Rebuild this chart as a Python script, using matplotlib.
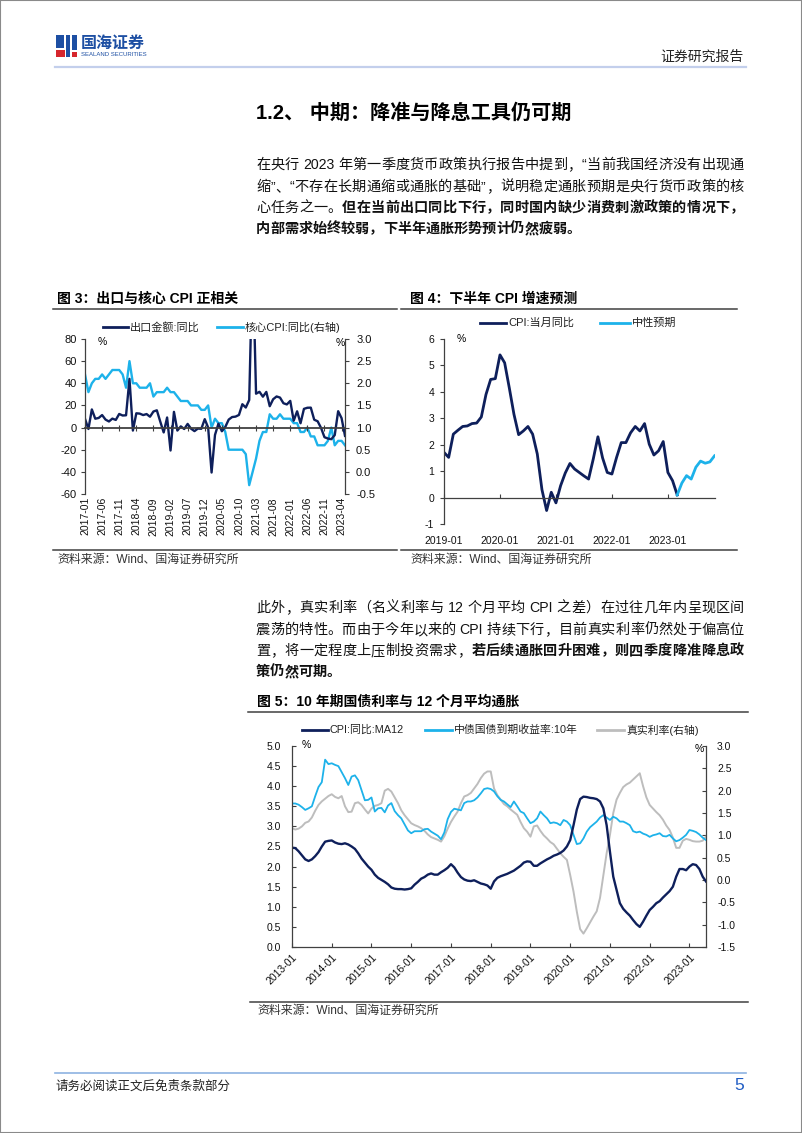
import re
import numpy as np
import matplotlib.pyplot as plt
from matplotlib.lines import Line2D
from matplotlib.patches import Rectangle
from matplotlib.ticker import MultipleLocator, FormatStrFormatter

# ---------------- data ----------------
# 图3: 出口金额同比 (%) / 核心CPI同比 (%, 右轴), 2017-01 .. 2023-05
fig3_ticks = ['2017-01', '2017-06', '2017-11', '2018-04', '2018-09', '2019-02',
              '2019-07', '2019-12', '2020-05', '2020-10', '2021-03', '2021-08',
              '2022-01', '2022-06', '2022-11', '2023-04']
export_yoy = [7.9, -1.3, 16.4, 8.0, 8.7, 11.3, 7.2, 5.5, 8.1, 6.9, 12.3, 10.9,
              11.1, 44.0, -2.7, 12.9, 12.6, 11.3, 12.2, 9.8, 14.5, 15.6, 5.4, -4.4,
              9.1, -20.7, 14.2, -2.7, 1.1, -1.3, 3.3, -1.0, -3.2, -0.9, -1.1, 7.6,
              0.0, -40.6, -6.6, 3.5, -3.3, 0.5, 7.2, 9.5, 9.9, 11.4, 21.1, 18.1,
              24.9, 154.9, 30.6, 32.3, 27.9, 32.2, 19.3, 25.6, 28.1, 27.1, 22.0, 20.9,
              24.1, 6.2, 14.7, 3.9, 16.9, 17.9, 18.0, 7.1, 5.7, -0.3, -8.7, -9.9,
              -10.5, -6.8, 14.8, 8.5, -7.5]
core_cpi = [2.2, 1.8, 2.0, 2.1, 2.1, 2.2, 2.1, 2.2, 2.3, 2.3, 2.3, 2.2,
            1.9, 2.5, 2.0, 2.0, 1.9, 1.9, 1.9, 2.0, 1.7, 1.8, 1.8, 1.8,
            1.9, 1.8, 1.8, 1.7, 1.6, 1.6, 1.6, 1.5, 1.5, 1.5, 1.4, 1.4,
            1.5, 1.0, 1.2, 1.1, 1.1, 0.9, 0.5, 0.5, 0.5, 0.5, 0.5, 0.4,
            -0.3, 0.0, 0.3, 0.7, 0.9, 0.9, 1.3, 1.2, 1.2, 1.3, 1.2, 1.2,
            1.2, 1.1, 1.1, 0.9, 0.9, 1.0, 0.8, 0.8, 0.6, 0.6, 0.6, 0.7,
            1.0, 0.6, 0.7, 0.7, 0.6]

# 图4: CPI当月同比 and 中性预期
fig4_ticks = ['2019-01', '2020-01', '2021-01', '2022-01', '2023-01']
cpi_yoy = [1.71, 1.52, 2.40, 2.55, 2.69, 2.71, 2.80, 2.82, 3.05, 3.90, 4.47, 4.50,
           5.40, 5.10, 4.15, 3.15, 2.38, 2.52, 2.69, 2.40, 1.65, 0.30, -0.49, 0.20,
           -0.20, 0.45, 0.93, 1.29, 1.08, 0.95, 0.82, 0.70, 1.46, 2.30, 1.50, 0.95,
           0.89, 1.52, 2.08, 2.08, 2.45, 2.69, 2.52, 2.80, 2.02, 1.61, 1.77, 2.12,
           0.95, 0.64, 0.10]
cpi_forecast = [0.10, 0.55, 0.83, 0.70, 1.15, 1.38, 1.30, 1.35, 1.58]

# 图5: monthly 2013-01 .. 2023-06
fig5_ticks = ['2013-01', '2014-01', '2015-01', '2016-01', '2017-01', '2018-01',
              '2019-01', '2020-01', '2021-01', '2022-01', '2023-01']
cpi_ma12 = [2.47, 2.46, 2.38, 2.28, 2.18, 2.14, 2.18, 2.26, 2.36, 2.50, 2.62, 2.64,
            2.65, 2.60, 2.57, 2.56, 2.58, 2.55, 2.50, 2.44, 2.33, 2.20, 2.10, 2.00,
            1.92, 1.80, 1.72, 1.67, 1.62, 1.56, 1.48, 1.45, 1.44, 1.44, 1.43, 1.44,
            1.46, 1.55, 1.62, 1.70, 1.74, 1.80, 1.83, 1.80, 1.80, 1.86, 1.91, 1.97,
            2.06, 1.98, 1.85, 1.74, 1.68, 1.65, 1.64, 1.66, 1.62, 1.58, 1.56, 1.53,
            1.45, 1.63, 1.72, 1.76, 1.79, 1.82, 1.86, 1.90, 1.96, 2.02, 2.10, 2.13,
            2.12, 2.02, 2.02, 2.08, 2.13, 2.18, 2.22, 2.27, 2.30, 2.34, 2.40, 2.50,
            2.66, 3.03, 3.42, 3.68, 3.74, 3.73, 3.71, 3.70, 3.68, 3.62, 3.45, 3.03,
            2.37, 1.75, 1.42, 1.09, 0.95, 0.86, 0.78, 0.67, 0.57, 0.50, 0.63, 0.78,
            0.92, 1.00, 1.09, 1.14, 1.23, 1.31, 1.39, 1.50, 1.75, 1.94, 1.94, 1.91,
            2.00, 2.06, 2.04, 1.94, 1.75, 1.63]
yield_10y = [3.57, 3.57, 3.54, 3.48, 3.41, 3.45, 3.50, 3.75, 3.98, 4.10, 4.66, 4.55,
             4.57, 4.53, 4.50, 4.35, 4.20, 4.03, 4.24, 4.27, 4.15, 3.90, 3.65, 3.66,
             3.72, 3.37, 3.45, 3.46, 3.35, 3.52, 3.58, 3.38, 3.28, 3.20, 3.05, 2.90,
             2.83, 2.88, 2.88, 2.88, 2.93, 2.94, 2.87, 2.82, 2.77, 2.68, 2.85, 3.18,
             3.36, 3.44, 3.42, 3.40, 3.58, 3.62, 3.62, 3.65, 3.72, 3.82, 3.93, 3.95,
             3.93, 3.87, 3.75, 3.66, 3.62, 3.55, 3.48, 3.62, 3.50, 3.37, 3.33, 3.20,
             3.08, 3.12, 3.20, 3.37, 3.28, 3.20, 3.08, 3.10, 3.08, 3.03, 3.16, 3.12,
             3.03, 2.79, 2.56, 2.58, 2.70, 2.87, 2.98, 3.05, 3.12, 3.22, 3.28, 3.22,
             3.16, 3.24, 3.20, 3.12, 3.12, 3.08, 3.03, 2.88, 2.85, 2.87, 2.82, 2.79,
             2.74, 2.78, 2.80, 2.83, 2.76, 2.75, 2.79, 2.70, 2.63, 2.66, 2.72, 2.79,
             2.91, 2.89, 2.86, 2.80, 2.72, 2.66]
real_rate = [1.16, 1.13, 1.15, 1.20, 1.28, 1.31, 1.40, 1.55, 1.68, 1.76, 1.82, 1.88,
             1.92, 1.86, 1.83, 1.88, 1.65, 1.52, 1.53, 1.72, 1.74, 1.68, 1.58, 1.49,
             1.60, 1.66, 1.68, 1.72, 2.00, 2.04, 1.98, 1.85, 1.72, 1.56, 1.45, 1.36,
             1.27, 1.23, 1.20, 1.16, 1.10, 1.02, 0.96, 0.93, 0.90, 0.86, 0.98, 1.15,
             1.30, 1.42, 1.53, 1.72, 1.87, 1.90, 1.95, 2.05, 2.15, 2.28, 2.38, 2.43,
             2.43, 2.05, 1.90, 1.80, 1.70, 1.65, 1.58, 1.52, 1.46, 1.30, 1.16, 1.08,
             0.97, 1.20, 1.22, 1.10, 1.00, 0.93, 0.85, 0.80, 0.70, 0.60, 0.52, 0.45,
             0.11, -0.26, -0.71, -1.10, -1.20, -1.08, -0.95, -0.82, -0.70, -0.40, 0.10, 0.60,
             1.01, 1.50, 1.80, 1.95, 2.08, 2.14, 2.18, 2.25, 2.32, 2.39, 2.10, 1.85,
             1.68, 1.60, 1.52, 1.45, 1.35, 1.22, 1.12, 0.95, 0.72, 0.72, 0.88, 0.92,
             0.90, 0.87, 0.86, 0.86, 0.88, 0.97]

# ---------------- style ----------------
NAVY = '#0e1f5b'
SKY = '#1db2ea'
GRAY = '#bdbdbd'
AXC = '#404040'
plt.rcParams['font.family'] = ['Liberation Sans', 'Noto Sans CJK SC']
plt.rcParams['font.size'] = 7.5
plt.rcParams['axes.unicode_minus'] = False

W, H = 802, 1133
fig = plt.figure(figsize=(W / 100, H / 100), dpi=100)
renderer = fig.canvas.get_renderer()


def fx(x):
    return x / W


def fy(y):
    return 1 - y / H


def axes_px(left, top, right, bottom):
    return fig.add_axes([fx(left), fy(bottom), (right - left) / W, (bottom - top) / H])


def text_px(x, y, s, **kw):
    kw.setdefault('va', 'center')
    return fig.text(fx(x), fy(y), s, **kw)


def hline_px(x0, x1, y, color, lw):
    fig.add_artist(Line2D([fx(x0), fx(x1)], [fy(y), fy(y)], color=color, lw=lw,
                          transform=fig.transFigure))


def put_line(y, segs, justify=True, size=10.2, x0=256, x1=744):
    # lay out a paragraph line token by token, stretched to the text width
    toks = []
    for s, b in segs:
        toks += [(t, b) for t in re.findall(r'[A-Za-z0-9.]+| |.', s)]
    items = []
    for t, b in toks:
        if t == ' ':
            items.append((None, size * 100 / 72 * 0.25))
            continue
        a = text_px(0, y, t, fontsize=size, fontweight='bold' if b else 'normal', color='#111111')
        items.append((a, a.get_window_extent(renderer).width))
    total = sum(w for _, w in items)
    gap = (x1 - x0 - total) / (len(items) - 1) if justify else 0.0
    x = x0
    for a, w in items:
        if a is not None:
            a.set_x(fx(x))
        x += w + gap


def legend_item(x0, x1, y, color, label, size=8):
    hline_px(x0, x1, y, color, 2.0)
    text_px(x1 + 2, y, label, fontsize=size, color='#222222')


# ---------------- page frame, header, footer ----------------
fig.add_artist(Rectangle((0, 0), 1, 1, transform=fig.transFigure, fill=False,
                         edgecolor='#8a8a8a', lw=1.5))
for (x, y, w, h, c) in [(56, 35, 8, 13, '#1d4fa3'), (66, 35, 4, 22, '#1d4fa3'),
                        (72, 35, 5, 15, '#1d4fa3'), (56, 50, 9, 7, '#d6262d'),
                        (72, 52, 5, 5, '#d6262d')]:
    fig.add_artist(Rectangle((fx(x), fy(y + h)), w / W, h / H, transform=fig.transFigure,
                             color=c, lw=0))
text_px(81, 43, '国海证券', fontsize=11.5, fontweight='bold', color='#1d4fa3')
text_px(81, 55, 'SEALAND SECURITIES', fontsize=4.3, color='#1d4fa3')
text_px(744, 57, '证券研究报告', fontsize=10, ha='right', color='#222222')
hline_px(55, 746, 66.7, '#c3cfec', 1.6)

hline_px(55, 746, 1073, '#8db3e2', 1.2)
text_px(56, 1087, '请务必阅读正文后免责条款部分', fontsize=9, color='#222222')
text_px(744, 1086, '5', fontsize=12.5, ha='right', color='#1f5cc4')

# ---------------- body text ----------------
text_px(256, 113, '1.2、 中期：降准与降息工具仍可期', fontsize=14.5, fontweight='bold')

put_line(165, [('在央行 2023 年第一季度货币政策执行报告中提到，“当前我国经济没有出现通', False)])
put_line(187, [('缩”、“不存在长期通缩或通胀的基础”，说明稳定通胀预期是央行货币政策的核', False)])
put_line(208, [('心任务之一。', False), ('但在当前出口同比下行，同时国内缺少消费刺激政策的情况下，', True)])
put_line(229, [('内部需求始终较弱，下半年通胀形势预计仍然疲弱。', True)], justify=False)

put_line(608, [('此外，真实利率（名义利率与 12 个月平均 CPI 之差）在过往几年内呈现区间', False)])
put_line(630, [('震荡的特性。而由于今年以来的 CPI 持续下行，目前真实利率仍然处于偏高位', False)])
put_line(651, [('置，将一定程度上压制投资需求，', False), ('若后续通胀回升困难，则四季度降准降息政', True)])
put_line(672, [('策仍然可期。', True)], justify=False)

# figure captions and rules
text_px(57, 299, '图 3：出口与核心 CPI 正相关', fontsize=10, fontweight='bold')
text_px(410, 299, '图 4：下半年 CPI 增速预测', fontsize=10, fontweight='bold')
text_px(257, 702, '图 5：10 年期国债利率与 12 个月平均通胀', fontsize=10, fontweight='bold')
hline_px(53, 397, 309, AXC, 1.1)
hline_px(401, 737, 309, AXC, 1.1)
hline_px(248, 748, 712, AXC, 1.1)
hline_px(53, 397, 550, AXC, 1.1)
hline_px(401, 737, 550, AXC, 1.1)
hline_px(250, 748, 1002, AXC, 1.1)
text_px(57, 560, '资料来源：Wind、国海证券研究所', fontsize=8.6, color='#333333')
text_px(410, 560, '资料来源：Wind、国海证券研究所', fontsize=8.6, color='#333333')
text_px(257, 1011, '资料来源：Wind、国海证券研究所', fontsize=8.6, color='#333333')


def style_spines(ax, keep):
    for name, sp in ax.spines.items():
        sp.set_visible(name in keep)
        sp.set_color(AXC)
        sp.set_linewidth(0.9)


# ---------------- figure 3 ----------------
ax3 = axes_px(85, 339, 345, 494)
x3 = np.arange(len(export_yoy))
ax3.plot(x3, export_yoy, color=NAVY, lw=1.7)
ax3.set_xlim(0, len(export_yoy) - 1)
ax3.set_ylim(-60, 80)
ax3.spines['bottom'].set_position(('data', 0))
ax3.yaxis.set_major_locator(MultipleLocator(20))
ax3.set_xticks(np.arange(0, len(export_yoy), 5))
ax3.set_xticklabels(fig3_ticks)
style_spines(ax3, ['left', 'bottom'])
ax3.spines['bottom'].set_linewidth(1.3)
ax3.tick_params(axis='x', direction='inout', length=4, pad=48, labelrotation=90,
                colors=AXC, labelcolor='#111111')
ax3.tick_params(axis='y', direction='out', length=3, pad=3, labelsize=8,
                colors=AXC, labelcolor='#111111')
ax3.patch.set_visible(False)

ax3r = ax3.twinx()
ax3r.plot(x3, core_cpi, color=SKY, lw=1.7)
ax3r.set_ylim(-0.5, 3.0)
ax3r.yaxis.set_major_locator(MultipleLocator(0.5))
ax3r.yaxis.set_major_formatter(FormatStrFormatter('%.1f'))
style_spines(ax3r, ['right'])
ax3r.tick_params(axis='y', direction='out', length=3, pad=5, labelsize=8,
                 colors=AXC, labelcolor='#111111')
ax3.set_zorder(ax3r.get_zorder() + 1)

text_px(98, 342, '%', fontsize=7.5)
text_px(336, 343, '%', fontsize=7.5)
legend_item(103, 128, 327, NAVY, '出口金额:同比')
legend_item(217, 243, 327, SKY, '核心CPI:同比(右轴)')

# ---------------- figure 4 ----------------
ax4 = axes_px(444, 339, 715, 524)
x4 = np.arange(len(cpi_yoy))
x4f = np.arange(len(cpi_yoy) - 1, len(cpi_yoy) - 1 + len(cpi_forecast))
ax4.plot(x4, cpi_yoy, color=NAVY, lw=2.0)
ax4.plot(x4f, cpi_forecast, color=SKY, lw=2.0)
ax4.set_xlim(0, x4f[-1] + 0.1)
ax4.set_ylim(-1, 6)
ax4.spines['bottom'].set_position(('data', 0))
ax4.yaxis.set_major_locator(MultipleLocator(1))
ax4.set_xticks(np.arange(0, 12 * len(fig4_ticks), 12))
ax4.set_xticklabels(fig4_ticks)
style_spines(ax4, ['left', 'bottom'])
ax4.tick_params(axis='x', direction='in', length=3, pad=28, colors=AXC, labelcolor='#111111')
ax4.tick_params(axis='y', direction='out', length=3, pad=4, colors=AXC, labelcolor='#111111')
ax4.patch.set_visible(False)

text_px(457, 339, '%', fontsize=7.5)
legend_item(480, 506, 323, NAVY, 'CPI:当月同比')
legend_item(600, 630, 323, SKY, '中性预期')

# ---------------- figure 5 ----------------
ax5 = axes_px(292, 746, 706, 947)
x5 = np.arange(len(cpi_ma12))
ax5.plot(x5, yield_10y, color=SKY, lw=1.3)
ax5.plot(x5, cpi_ma12, color=NAVY, lw=1.7)
ax5.set_xlim(0, len(cpi_ma12) - 1)
ax5.set_ylim(0, 5)
ax5.yaxis.set_major_locator(MultipleLocator(0.5))
ax5.yaxis.set_major_formatter(FormatStrFormatter('%.1f'))
ax5.set_xticks(np.arange(0, 12 * len(fig5_ticks), 12))
ax5.set_xticklabels(fig5_ticks, rotation=45, ha='right', rotation_mode='anchor')
style_spines(ax5, ['left', 'bottom'])
ax5.tick_params(axis='x', direction='in', length=3, pad=4, colors=AXC, labelcolor='#111111')
ax5.tick_params(axis='y', direction='in', length=3, pad=8, colors=AXC, labelcolor='#111111')

ax5r = ax5.twinx()
ax5r.plot(x5, real_rate, color=GRAY, lw=1.4)
ax5r.set_ylim(-1.5, 3.0)
ax5r.yaxis.set_major_locator(MultipleLocator(0.5))
ax5r.yaxis.set_major_formatter(FormatStrFormatter('%.1f'))
style_spines(ax5r, ['right'])
ax5r.tick_params(axis='y', direction='in', length=3, pad=8, colors=AXC, labelcolor='#111111')
ax5.set_zorder(ax5r.get_zorder() + 1)
ax5.patch.set_visible(False)

text_px(302, 745, '%', fontsize=7.5)
text_px(695, 749, '%', fontsize=7.5)
legend_item(302, 328, 730, NAVY, 'CPI:同比:MA12', size=7.8)
legend_item(425, 452, 730, SKY, '中债国债到期收益率:10年', size=7.8)
legend_item(597, 624, 730, GRAY, '真实利率(右轴)', size=7.8)

fig.savefig('out.png', dpi=100)
